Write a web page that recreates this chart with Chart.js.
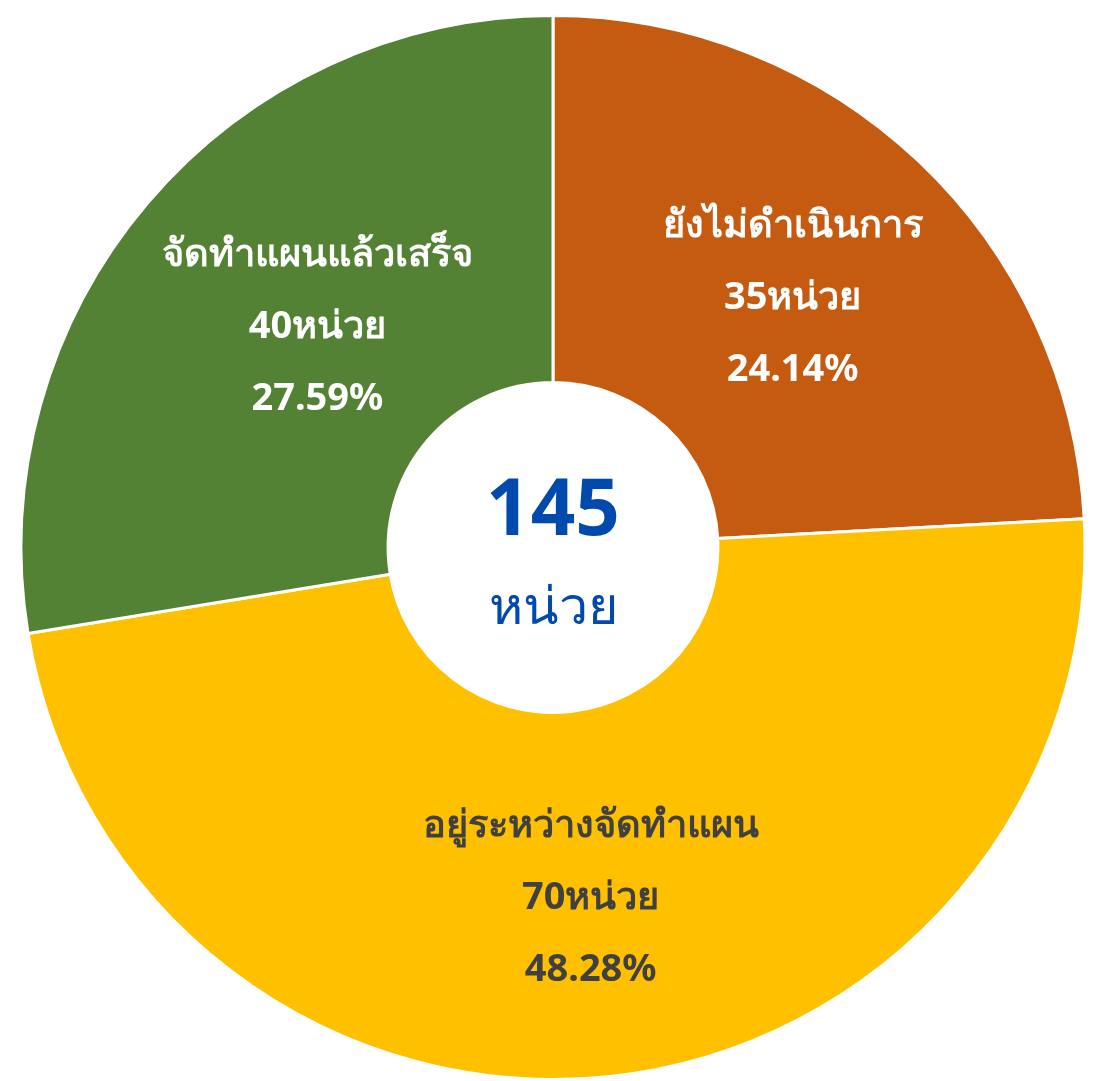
<!DOCTYPE html>
<html lang="th">
<head>
<meta charset="UTF-8"/>
<title>สถานะการจัดทำแผน</title>
<script src="https://cdn.jsdelivr.net/npm/chart.js@4.4.1/dist/chart.umd.min.js"></script>
<style>
  html,body{margin:0;padding:0;background:#fff}
  #box{width:1095px;height:1081px}
</style>
</head>
<body>
<div id="box"><canvas id="pie"></canvas></div>
<script>
const labels = ['ยังไม่ดำเนินการ', 'อยู่ระหว่างจัดทำแผน', 'จัดทำแผนแล้วเสร็จ'];
const units = [35, 70, 40];
const percents = ['24.14%', '48.28%', '27.59%'];
const colors = ['#C55A11', '#FFC000', '#548235'];
const textColors = ['#ffffff', '#404040', '#ffffff'];
const total = 145;
const unitWord = 'หน่วย';

const FONT = "'Noto Sans', 'DejaVu Sans', sans-serif";
// small nudges so the labels sit where the original put them
const nudge = [[0, 4], [0, 4], [30, 5]];

const sliceLabels = {
  id: 'sliceLabels',
  afterDatasetsDraw(chart) {
    const ctx = chart.ctx;
    const meta = chart.getDatasetMeta(0);
    ctx.save();
    ctx.textAlign = 'center';
    ctx.textBaseline = 'middle';
    meta.data.forEach((arc, i) => {
      const p = arc.tooltipPosition();
      const x = p.x + nudge[i][0];
      const y = p.y + nudge[i][1];
      const lines = [labels[i], units[i] + unitWord, percents[i]];
      ctx.fillStyle = textColors[i];
      ctx.font = 'bold 38px ' + FONT;
      lines.forEach((t, j) => {
        ctx.fillText(t, x, y + (j - 1) * 72);
      });
    });
    // centre text
    const c = meta.data[0];
    ctx.fillStyle = '#004AAD';
    ctx.font = 'bold 78px ' + FONT;
    ctx.fillText(String(total), c.x, c.y - 35);
    ctx.font = '52px ' + FONT;
    ctx.fillText(unitWord, c.x, c.y + 62);
    ctx.restore();
  }
};

new Chart(document.getElementById('pie'), {
  type: 'doughnut',
  data: {
    labels: labels,
    datasets: [{
      data: units,
      backgroundColor: colors,
      borderColor: '#ffffff',
      borderWidth: 3
    }]
  },
  options: {
    responsive: true,
    maintainAspectRatio: false,
    animation: false,
    cutout: '31%',
    layout: { padding: { left: 11, right: 0, top: 14, bottom: 0 } },
    plugins: {
      legend: { display: false },
      tooltip: { enabled: false }
    }
  },
  plugins: [sliceLabels]
});
</script>
</body>
</html>
